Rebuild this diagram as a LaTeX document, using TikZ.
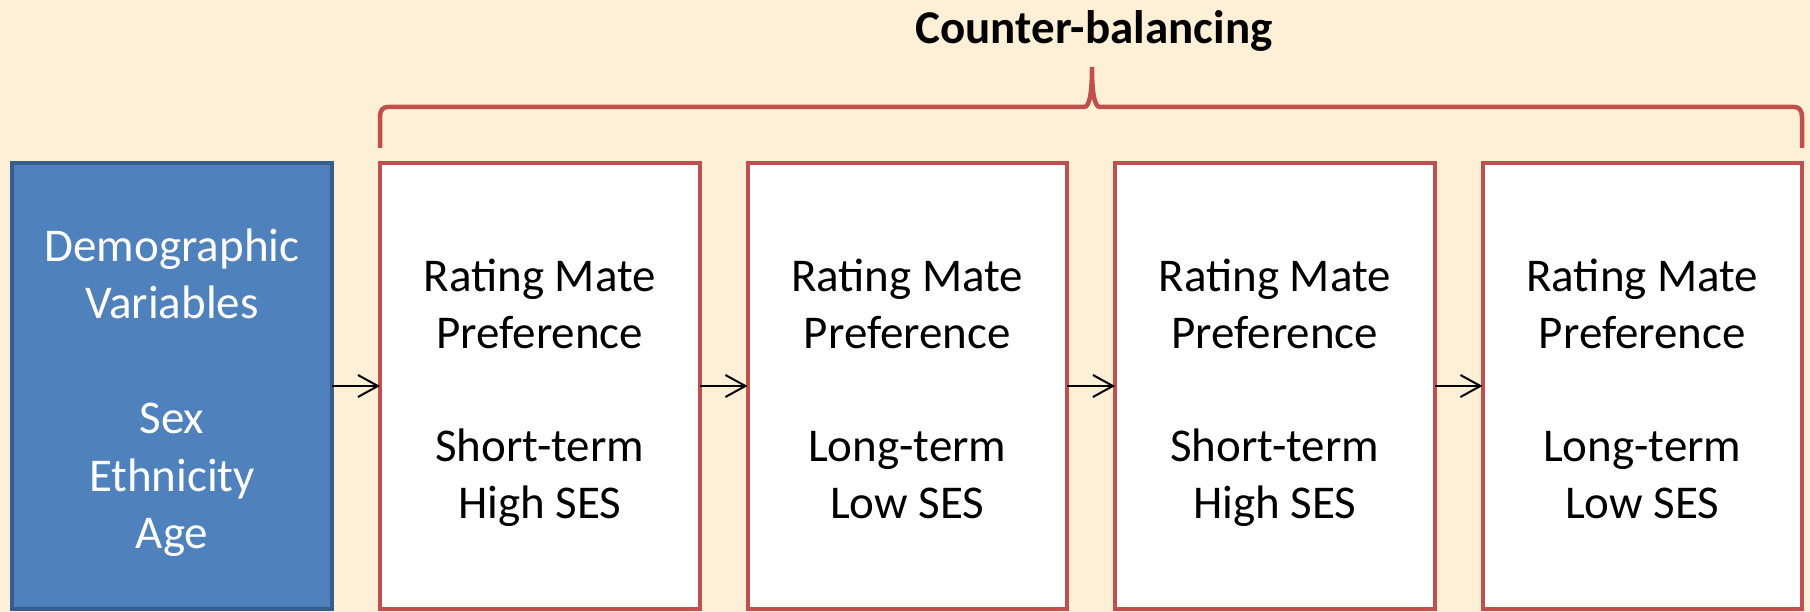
\documentclass[tikz,border=0pt]{standalone}
\usepackage{fontspec}
\setmainfont{Carlito}
\usetikzlibrary{positioning,calc,arrows.meta}
\definecolor{parchment}{RGB}{253,240,214}
\definecolor{boxred}{RGB}{192,80,77}
\definecolor{boxblue}{RGB}{79,129,189}
\definecolor{blueedge}{RGB}{56,93,138}
\tikzset{
	demo/.style={
		rectangle,
		draw=blueedge,
		line width=3.5pt,
		fill=boxblue,
		text=white,
		minimum width=320pt,
		minimum height=446pt,
		outer sep=0pt,
		align=center,
		text height=325pt,
		text depth=0pt,
		font=\fontsize{47}{57.5}\selectfont
	},
	rating/.style={
		rectangle,
		draw=boxred,
		line width=4pt,
		fill=white,
		minimum width=319.5pt,
		minimum height=446pt,
		outer sep=0pt,
		align=center,
		text height=265pt,
		text depth=0pt,
		font=\fontsize{47}{56.7}\selectfont
	},
	arrow/.style={
		draw=black,
		line width=2pt,
		-{Straight Barb[length=20pt,width=22pt]}
	},
	bracket/.style={
		draw=boxred,
		line width=4.5pt
	},
	title/.style={
		font=\fontsize{47}{56}\selectfont\bfseries
	},
}

\begin{document}
\begin{tikzpicture}[x=1pt,y=1pt,node distance=48pt]
	\fill[parchment] (0,0) rectangle (1810,-612);
	\useasboundingbox (0,0) rectangle (1810,-612);

	\node [demo] (demo) at (172,-386) {Demographic\\Variables\\~\\Sex\\Ethnicity\\Age};
	\node [rating] (r1) [right=of demo] {Rating Mate\\Preference\\~\\Short-term\\High SES};
	\node [rating] (r2) [right=of r1] {Rating Mate\\Preference\\~\\Long-term\\Low SES};
	\node [rating] (r3) [right=of r2] {Rating Mate\\Preference\\~\\Short-term\\High SES};
	\node [rating] (r4) [right=of r3] {Rating Mate\\Preference\\~\\Long-term\\Low SES};

	\draw[arrow] (demo) -- (r1);
	\draw[arrow] (r1) -- (r2);
	\draw[arrow] (r2) -- (r3);
	\draw[arrow] (r3) -- (r4);

	% brace over the four ratings
	\coordinate (bl) at ($(r1.north west)+(0,15)$);
	\coordinate (br) at ($(r4.north east)+(0,15)$);
	\coordinate (mid) at (1092,-107);
	\coordinate (tip) at (1092,-67);
	\draw[bracket] (bl) -- ++(0,31) .. controls +(0,7) and +(-5,0) .. ++(8,10)
		-- ($(mid)+(-8,0)$) .. controls +(6,0) and +(0,-24) .. (tip)
		.. controls +(0,-24) and +(-6,0) .. ($(mid)+(8,0)$)
		-- ($(br)+(-8,41)$) .. controls +(5,0) and +(0,7) .. ($(br)+(0,31)$) -- (br);

	\node [title] (cb) at (1094,-31) {Counter-balancing};
\end{tikzpicture}
\end{document}
